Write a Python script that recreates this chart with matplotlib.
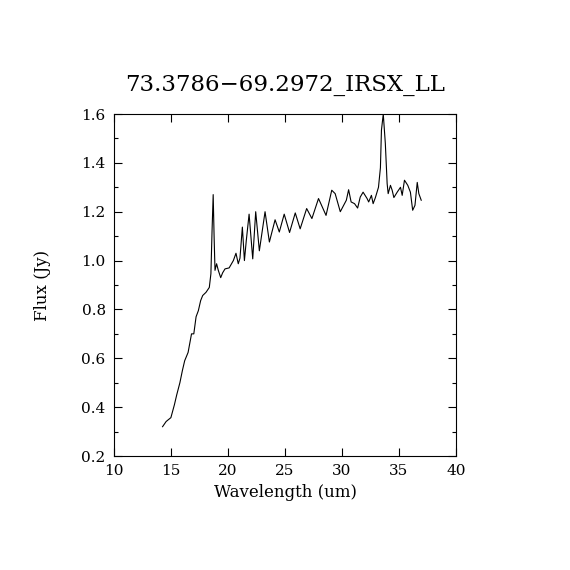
import matplotlib
matplotlib.use("Agg")
import matplotlib.pyplot as plt
from matplotlib.ticker import MultipleLocator

# spectrum
wavelength = [14.26, 14.57, 14.75, 14.99, 15.3, 15.5, 15.78, 16.0, 16.2, 16.5,
              16.8, 17.0, 17.2, 17.4, 17.6, 17.78, 18.07, 18.36, 18.5, 18.6,
              18.7, 18.78, 18.86, 19.0, 19.15, 19.36, 19.53, 19.74, 20.1, 20.47,
              20.7, 20.9, 21.05, 21.26, 21.44, 21.6, 21.85, 22.17, 22.43, 22.75,
              23.25, 23.63, 24.13, 24.5, 24.93, 25.4, 25.9, 26.33, 26.9, 27.36,
              27.94, 28.6, 29.1, 29.4, 29.85, 30.38, 30.58, 30.8, 31.1, 31.37,
              31.6, 31.85, 32.2, 32.34, 32.58, 32.73, 32.93, 33.2, 33.37, 33.46,
              33.62, 33.8, 33.96, 34.05, 34.25, 34.4, 34.55, 34.84, 35.13, 35.28,
              35.48, 35.77, 36.0, 36.2, 36.4, 36.6, 36.74, 36.95]
flux = [0.32, 0.341, 0.348, 0.357, 0.41, 0.45, 0.50, 0.55, 0.59, 0.624,
        0.70, 0.70, 0.77, 0.795, 0.836, 0.857, 0.87, 0.89, 0.946, 1.12,
        1.27, 1.10, 0.96, 0.987, 0.96, 0.93, 0.95, 0.966, 0.97, 1.0,
        1.03, 0.987, 1.01, 1.137, 1.0, 1.08, 1.19, 1.007, 1.2, 1.04,
        1.2, 1.076, 1.167, 1.117, 1.19, 1.115, 1.195, 1.13, 1.213, 1.172,
        1.254, 1.185, 1.288, 1.274, 1.2, 1.247, 1.29, 1.24, 1.233, 1.215,
        1.26, 1.28, 1.254, 1.24, 1.267, 1.233, 1.258, 1.30, 1.38, 1.534,
        1.6, 1.48, 1.315, 1.274, 1.308, 1.288, 1.258, 1.28, 1.30, 1.267,
        1.329, 1.308, 1.28, 1.206, 1.226, 1.32, 1.274, 1.247]

title = "73.3786\u221269.2972_IRSX_LL"

plt.rcParams['font.family'] = ['DejaVu Serif']

fig = plt.figure(figsize=(5.7, 5.7), dpi=100)
ax = fig.add_axes([0.2, 0.2, 0.6, 0.6])

ax.plot(wavelength, flux, color='black', lw=0.8)

ax.set_xlim(10, 40)
ax.set_ylim(0.2, 1.6)
ax.xaxis.set_major_locator(MultipleLocator(5))
ax.yaxis.set_major_locator(MultipleLocator(0.2))
ax.yaxis.set_minor_locator(MultipleLocator(0.1))
ax.yaxis.set_major_formatter(plt.FuncFormatter(lambda v, p: "%.1f" % v))
ax.tick_params(which='both', direction='in', top=True, right=True,
               labelsize=11, width=0.8)
ax.tick_params(axis='x', pad=6)
ax.tick_params(axis='y', pad=6)
ax.tick_params(which='major', length=6)
ax.tick_params(which='minor', length=3)
for s in ax.spines.values():
    s.set_linewidth(0.8)

ax.set_xlabel("Wavelength (um)", fontsize=12, labelpad=4)
ax.set_ylabel("Flux (Jy)", fontsize=12, labelpad=22)
ax.set_title(title, fontsize=16.5, pad=17)

fig.savefig("out.png", dpi=100)
